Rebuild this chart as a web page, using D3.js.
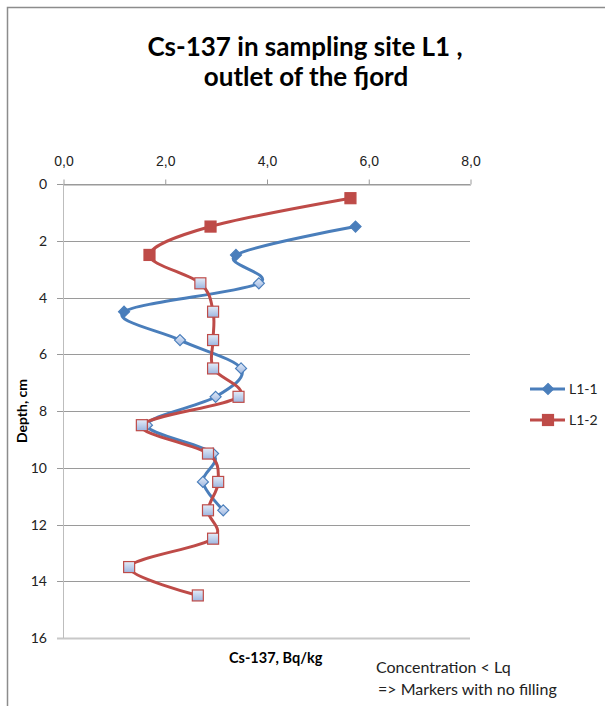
<!DOCTYPE html>
<html>
<head>
<meta charset="utf-8">
<script src="https://cdn.jsdelivr.net/npm/d3@7"></script>
<style>
  body { margin: 0; background: #fff; }
  svg { display: block; font-family: Lato, "Open Sans", sans-serif; }
</style>
</head>
<body>
<div id="viz"></div>
<script>
// depth (cm) and Cs-137 (Bq/kg) per series
const depthL1_1 = [1.5, 2.5, 3.5, 4.5, 5.5, 6.5, 7.5, 8.5, 9.5, 10.5, 11.5];
const valuesL1_1 = [5.75, 3.4, 3.85, 1.2, 2.3, 3.5, 3.0, 1.65, 2.95, 2.75, 3.15];
const filledL1_1 = [true, true, false, true, false, false, false, false, false, false, false];

const depthL1_2 = [0.5, 1.5, 2.5, 3.5, 4.5, 5.5, 6.5, 7.5, 8.5, 9.5, 10.5, 11.5, 12.5, 13.5, 14.5];
const valuesL1_2 = [5.65, 2.9, 1.7, 2.7, 2.95, 2.95, 2.95, 3.45, 1.55, 2.85, 3.05, 2.85, 2.95, 1.3, 2.65];
const filledL1_2 = [true, true, true, false, false, false, false, false, false, false, false, false, false, false, false];

const xTicks = [0, 2, 4, 6, 8];
const yTicks = [0, 2, 4, 6, 8, 10, 12, 14, 16];
const seriesNames = ["L1-1", "L1-2"];

const W = 605, H = 706;
const plot = {left: 63, right: 470, top: 184, bottom: 638};

const svg = d3.select("#viz").append("svg")
  .attr("width", W)
  .attr("height", H);

const defs = svg.append("defs");
const grad = defs.append("linearGradient")
  .attr("id", "hollow")
  .attr("x1", 0).attr("y1", 0).attr("x2", 0).attr("y2", 1);
grad.append("stop").attr("offset", "0%").attr("stop-color", "#e4ecf8");
grad.append("stop").attr("offset", "100%").attr("stop-color", "#9db6e0");

// chart frame (only top and left edges are visible)
svg.append("path")
  .attr("d", `M7.5,${H} V7.5 H${W}`)
  .attr("fill", "none")
  .attr("stroke", "#8c8c8c")
  .attr("stroke-width", 1.5);

const x = d3.scaleLinear().domain([0, 8]).range([plot.left, plot.right]);
const y = d3.scaleLinear().domain([0, 16]).range([plot.top, plot.bottom]);

// horizontal gridlines
svg.append("g")
  .selectAll("line")
  .data(yTicks)
  .join("line")
    .attr("x1", plot.left - 6)
    .attr("x2", plot.right)
    .attr("y1", d => Math.round(y(d)) + 0.5)
    .attr("y2", d => Math.round(y(d)) + 0.5)
    .attr("stroke", d => d === 16 ? "#c8c8c8" : "#9a9a9a")
    .attr("stroke-width", d => d === 16 ? 2 : 1);

// vertical axis line
svg.append("line")
  .attr("x1", plot.left + 0.5).attr("x2", plot.left + 0.5)
  .attr("y1", plot.top).attr("y2", plot.bottom)
  .attr("stroke", "#bdbdbd");

// top x axis
const xAxis = svg.append("g")
  .attr("transform", `translate(0.5,${plot.top + 0.5})`)
  .call(d3.axisTop(x).tickValues(xTicks).tickSize(5).tickSizeOuter(0)
    .tickFormat(d => d3.format(".1f")(d).replace(".", ",")));
xAxis.select(".domain").attr("stroke", "#9a9a9a");
xAxis.selectAll(".tick line").attr("stroke", "#9a9a9a");
xAxis.selectAll("text")
  .attr("y", -19)
  .attr("fill", "#222")
  .style("font-size", "14px");

// y tick labels
svg.append("g")
  .selectAll("text")
  .data(yTicks)
  .join("text")
    .attr("x", 47)
    .attr("y", d => y(d) + 5)
    .attr("text-anchor", "end")
    .attr("fill", "#222")
    .style("font-size", "14px")
    .text(d => d);

const line = d3.line()
  .x(d => x(d.v))
  .y(d => y(d.depth))
  .curve(d3.curveCardinal.tension(0));

const series = [
  {name: seriesNames[0], color: "#4a7ebb", shape: "diamond",
   pts: depthL1_1.map((dp, i) => ({depth: dp, v: valuesL1_1[i], filled: filledL1_1[i]}))},
  {name: seriesNames[1], color: "#be4b48", shape: "square",
   pts: depthL1_2.map((dp, i) => ({depth: dp, v: valuesL1_2[i], filled: filledL1_2[i]}))}
];

function marker(g, shape, color, filled) {
  if (shape === "diamond") {
    g.append("path")
      .attr("d", "M0,-5.5 L5.5,0 L0,5.5 L-5.5,0 Z")
      .attr("fill", filled ? color : "url(#hollow)")
      .attr("stroke", color)
      .attr("stroke-width", 1.2);
  } else {
    g.append("rect")
      .attr("x", -5.5).attr("y", -5.5)
      .attr("width", 11).attr("height", 11)
      .attr("fill", filled ? color : "url(#hollow)")
      .attr("stroke", color)
      .attr("stroke-width", 1.2);
  }
}

series.forEach(s => {
  const g = svg.append("g");
  g.append("path")
    .datum(s.pts)
    .attr("d", line)
    .attr("fill", "none")
    .attr("stroke", s.color)
    .attr("stroke-width", 3)
    .attr("stroke-linejoin", "round");
  s.pts.forEach(p => {
    const m = g.append("g").attr("transform", `translate(${x(p.v)},${y(p.depth)})`);
    marker(m, s.shape, s.color, p.filled);
  });
});

// legend
series.forEach((s, i) => {
  const ly = 389 + i * 31;
  const lg = svg.append("g").attr("transform", `translate(0,${ly})`);
  lg.append("line")
    .attr("x1", 530).attr("x2", 565)
    .attr("stroke", s.color).attr("stroke-width", 3);
  const m = lg.append("g").attr("transform", "translate(548,0)");
  marker(m, s.shape, s.color, true);
  lg.append("text")
    .attr("x", 569).attr("y", 5)
    .attr("fill", "#222")
    .style("font-size", "14px")
    .text(s.name);
});

// titles
svg.append("text")
  .attr("x", 305).attr("y", 56)
  .attr("text-anchor", "middle")
  .style("font-size", "26px").style("font-weight", "bold")
  .text("Cs-137 in sampling site L1 ,");
svg.append("text")
  .attr("x", 306).attr("y", 86)
  .attr("text-anchor", "middle")
  .style("font-size", "26px").style("font-weight", "bold")
  .text("outlet of the fjord");

svg.append("text")
  .attr("transform", `translate(27,${(plot.top + plot.bottom) / 2}) rotate(-90)`)
  .attr("text-anchor", "middle")
  .style("font-size", "14px").style("font-weight", "bold")
  .text("Depth, cm");

svg.append("text")
  .attr("x", 229).attr("y", 663)
  .style("font-size", "14.5px").style("font-weight", "bold")
  .text("Cs-137, Bq/kg");

svg.append("text")
  .attr("x", 376).attr("y", 673)
  .style("font-size", "16px").attr("fill", "#222")
  .text("Concentration < Lq");
svg.append("text")
  .attr("x", 378).attr("y", 695)
  .style("font-size", "16px").attr("fill", "#222")
  .text("=> Markers with no filling");
</script>
</body>
</html>
